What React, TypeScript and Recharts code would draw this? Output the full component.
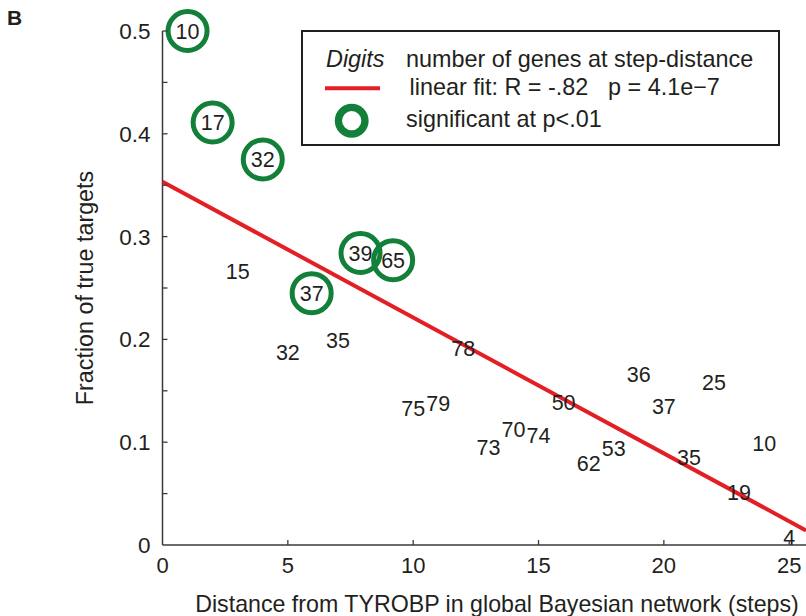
import { Scatter, ScatterChart, XAxis, YAxis } from 'recharts'

const INK = '#231f20'
const AXIS = '#3a3a3a'
const RED = '#e31e24'
const GREEN = '#13803a'
const FONT = '"Liberation Sans", Arial, Helvetica, sans-serif'

// distance from TYROBP (steps), genes at that distance, fraction of true targets
const STEPS = [1, 2, 3, 4, 5, 5.95, 7, 7.9, 9.2, 10, 11, 12, 13, 14, 15, 16, 17, 18, 19, 20, 21, 22, 23, 24, 25]
const GENES = [10, 17, 15, 32, 32, 37, 35, 39, 65, 75, 79, 78, 73, 70, 74, 50, 62, 53, 36, 37, 35, 25, 19, 10, 4]
const FRACTION = [
  0.5, 0.411, 0.266, 0.375, 0.188, 0.245, 0.199, 0.284, 0.277, 0.133, 0.138, 0.191, 0.095,
  0.113, 0.107, 0.139, 0.08, 0.094, 0.166, 0.135, 0.085, 0.158, 0.051, 0.099, 0.008,
]
const SIGNIFICANT = [true, true, false, true, false, true, false, true, true, false, false, false, false,
  false, false, false, false, false, false, false, false, false, false, false, false]

// linear fit endpoints
const FIT_X = [0, 25.67]
const FIT_Y = [0.3534, 0.0142]

const X_TICKS = [0, 5, 10, 15, 20, 25]
const Y_TICKS = [0, 0.05, 0.1, 0.15, 0.2, 0.25, 0.3, 0.35, 0.4, 0.45, 0.5]

const points = STEPS.map((x, i) => ({ x, y: FRACTION[i], n: GENES[i], sig: SIGNIFICANT[i] }))
const fit = FIT_X.map((x, i) => ({ x, y: FIT_Y[i] }))

function XTick({ x, y, payload }: any) {
  return (
    <g>
      {payload.value !== 0 && <line x1={x} x2={x} y1={y} y2={y - 5} stroke={AXIS} strokeWidth={1.3} />}
      <text x={x} y={y + 28} textAnchor="middle" fontSize={22} fontFamily={FONT} fill={INK}>
        {payload.value}
      </text>
    </g>
  )
}

function YTick({ x, y, payload }: any) {
  const v = payload.value
  const major = Math.abs(v * 10 - Math.round(v * 10)) < 1e-6
  return (
    <g>
      {v !== 0 && <line x1={x} x2={x + 5} y1={y} y2={y} stroke={AXIS} strokeWidth={1.3} />}
      {major && (
        <text x={x - 12} y={y + 8} textAnchor="end" fontSize={22.5} fontFamily={FONT} fill={INK}>
          {v === 0 ? '0' : v.toFixed(1)}
        </text>
      )}
    </g>
  )
}

function CountMark({ cx, cy, payload }: any) {
  return (
    <g>
      <text x={cx} y={cy + 7.8} textAnchor="middle" fontSize={21.5} fontFamily={FONT} fill={INK}>
        {payload.n}
      </text>
      {payload.sig && <circle cx={cx} cy={cy} r={19.5} fill="none" stroke={GREEN} strokeWidth={5} />}
    </g>
  )
}

const Nothing = () => <g />

export default function App() {
  return (
    <div style={{ position: 'absolute', left: 0, top: 0, width: 806, height: 616, background: '#fff' }}>
      <ScatterChart width={806} height={616} margin={{ top: 31, right: 0, left: 0, bottom: 0 }}>
        <XAxis
          type="number"
          dataKey="x"
          domain={[0, 25.67]}
          ticks={X_TICKS}
          interval={0}
          tickSize={0}
          tickMargin={0}
          tickLine={false}
          height={71}
          stroke={AXIS}
          strokeWidth={1.5}
          tick={<XTick />}
          label={{
            content: ({ viewBox }: any) => (
              <text x={497} y={viewBox.y + 66.5} textAnchor="middle" fontSize={23.2} fontFamily={FONT} fill={INK}>
                Distance from TYROBP in global Bayesian network (steps)
              </text>
            ),
          }}
        />
        <YAxis
          type="number"
          dataKey="y"
          domain={[0, 0.5]}
          ticks={Y_TICKS}
          interval={0}
          tickSize={0}
          tickMargin={0}
          tickLine={false}
          width={162.5}
          stroke={AXIS}
          strokeWidth={1.5}
          tick={<YTick />}
          label={{
            content: ({ viewBox }: any) => {
              const cy = viewBox.y + viewBox.height / 2
              return (
                <text x={93} y={cy} transform={`rotate(-90 93 ${cy})`} textAnchor="middle" fontSize={23.3} fontFamily={FONT} fill={INK}>
                  Fraction of true targets
                </text>
              )
            },
          }}
        />
        <Scatter data={fit} line={{ stroke: RED, strokeWidth: 4 }} shape={Nothing} isAnimationActive={false} />
        <Scatter data={points} shape={CountMark} isAnimationActive={false} />
      </ScatterChart>

      <svg width={806} height={616} style={{ position: 'absolute', left: 0, top: 0, pointerEvents: 'none' }}>
        <text x={7} y={25} fontSize={21} fontWeight="bold" fontFamily={FONT} fill={INK}>B</text>
        <g transform="translate(302 31)" fontFamily={FONT} fill={INK} fontSize={23.4}>
          <rect x={0} y={0} width={477} height={114} fill="#fff" stroke={INK} strokeWidth={2} />
          <text x={24} y={36} fontStyle="italic">Digits</text>
          <text x={104} y={36}>number of genes at step-distance</text>
          <line x1={23} x2={78} y1={57.3} y2={57.3} stroke={RED} strokeWidth={4} />
          <text x={107.5} y={64}>linear fit: R = -.82</text>
          <text x={306} y={64}>p = 4.1e−7</text>
          <circle cx={49.7} cy={89.7} r={13.3} fill="none" stroke={GREEN} strokeWidth={7.3} />
          <text x={104} y={96}>significant at p&lt;.01</text>
        </g>
      </svg>
    </div>
  )
}
